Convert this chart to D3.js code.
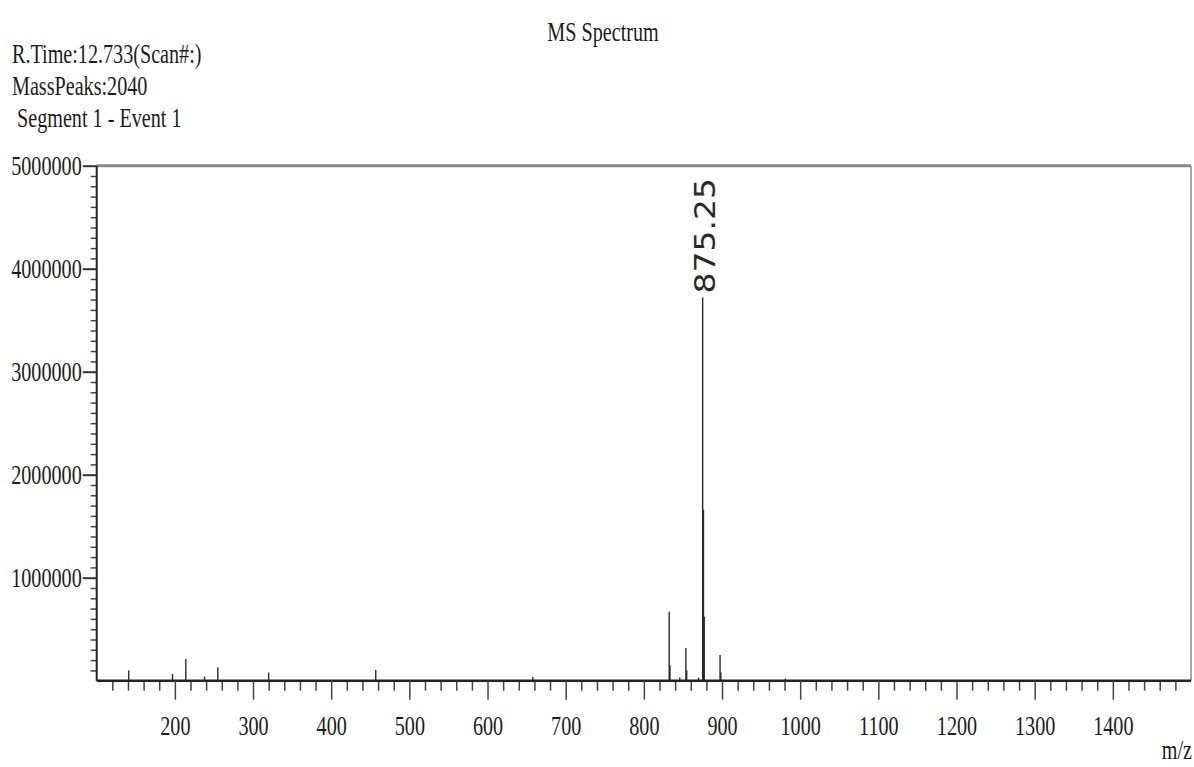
<!DOCTYPE html>
<html>
<head>
<meta charset="utf-8">
<script src="https://cdn.jsdelivr.net/npm/d3@7"></script>
<style>
	body { margin: 0; background: #fff; }
	text { font-family: "Liberation Serif", "Times New Roman", serif; fill: #1c1c1c; }
</style>
</head>
<body>
<svg id="chart" width="1194" height="767"></svg>
<script>
// peak list: m/z and intensity
var peakMz = [141, 197, 214, 238, 255, 320, 457, 658, 832.4, 833.4, 846, 853.8, 854.8, 870, 875.25, 876.25, 877.25, 897.5, 898.5, 981];
var peakInt = [100000, 65000, 210000, 40000, 130000, 80000, 105000, 35000, 670000, 150000, 30000, 317000, 100000, 30000, 3720000, 1660000, 620000, 250000, 80000, 20000];

var yTickValues = [1000000, 2000000, 3000000, 4000000, 5000000];
var xTickValues = [200, 300, 400, 500, 600, 700, 800, 900, 1000, 1100, 1200, 1300, 1400];
var headerLines = ["R.Time:12.733(Scan#:)", "MassPeaks:2040", " Segment 1 - Event 1"];
var title = "MS Spectrum";
var peakLabel = "875.25";

(function () {
	var SQ = 0.72; // glyphs in the picture are squeezed horizontally
	var FS = 28;

	var svg = d3.select("#chart");

	var plotL = 96.7, plotR = 1191, plotT = 165.7, plotB = 680.7;

	var x = d3.scaleLinear().domain([100, 1500]).range([plotL, plotR]);
	var y = d3.scaleLinear().domain([0, 5000000]).range([plotB, plotT]);

	function squeezed(sel, tx, ty) {
		return sel.attr("transform", "translate(" + tx + "," + ty + ") scale(" + SQ + ",1)");
	}

	// header
	squeezed(svg.append("text"), 603, 41)
		.attr("text-anchor", "middle")
		.attr("font-size", FS)
		.text(title);

	headerLines.forEach(function (line, i) {
		squeezed(svg.append("text"), 12, 63 + i * 32)
			.attr("font-size", FS)
			.style("white-space", "pre")
			.text(line);
	});

	// frame: top and right in grey
	svg.append("line")
		.attr("x1", plotL).attr("x2", plotR)
		.attr("y1", plotT).attr("y2", plotT)
		.attr("stroke", "#8a8a8a")
		.attr("stroke-width", 3);
	svg.append("line")
		.attr("x1", plotR).attr("x2", plotR)
		.attr("y1", plotT).attr("y2", plotB)
		.attr("stroke", "#8a8a8a")
		.attr("stroke-width", 1.5);

	// peaks
	svg.append("g")
		.selectAll("line")
		.data(peakMz)
		.enter()
		.append("line")
		.attr("x1", function (d) { return x(d); })
		.attr("x2", function (d) { return x(d); })
		.attr("y1", y(0))
		.attr("y2", function (d, i) { return y(peakInt[i]); })
		.attr("stroke", "#2a2a2a")
		.attr("stroke-width", 1.4);

	// y axis
	var yMinor = d3.range(100000, 5000000, 100000).filter(function (v) { return v % 1000000 !== 0; });

	svg.append("g").attr("transform", "translate(" + plotL + ",0)")
		.call(d3.axisLeft(y).tickValues(yMinor).tickSize(6).tickFormat(""))
		.call(function (g) { g.select(".domain").remove(); })
		.selectAll("line").attr("stroke", "#444").attr("stroke-width", 1.5);

	var yMajor = svg.append("g").attr("transform", "translate(" + plotL + ",0)")
		.call(d3.axisLeft(y).tickValues(yTickValues).tickSize(14).tickFormat(d3.format("d")));
	yMajor.select(".domain").attr("stroke", "#222").attr("stroke-width", 2).attr("d", "M0," + plotB + "V" + plotT);
	yMajor.selectAll(".tick line").attr("stroke", "#333").attr("stroke-width", 2);
	yMajor.selectAll(".tick text")
		.attr("font-size", FS)
		.attr("dy", "0.33em")
		.attr("x", 0)
		.attr("transform", "translate(-15,0) scale(" + SQ + ",1)");

	// x axis
	var xMinor = d3.range(120, 1500, 20).filter(function (v) { return v % 100 !== 0; });

	svg.append("g").attr("transform", "translate(0," + plotB + ")")
		.call(d3.axisBottom(x).tickValues(xMinor).tickSize(10).tickFormat(""))
		.call(function (g) { g.select(".domain").remove(); })
		.selectAll("line").attr("stroke", "#444").attr("stroke-width", 1.5);

	var xMajor = svg.append("g").attr("transform", "translate(0," + plotB + ")")
		.call(d3.axisBottom(x).tickValues(xTickValues).tickSize(19).tickFormat(d3.format("d")));
	xMajor.select(".domain").attr("stroke", "#222").attr("stroke-width", 2.6).attr("d", "M" + plotL + ",0H" + plotR);
	xMajor.selectAll(".tick line").attr("stroke", "#444").attr("stroke-width", 1.5);
	xMajor.selectAll(".tick text")
		.attr("font-size", FS)
		.attr("y", 0)
		.attr("dy", 0)
		.attr("transform", "translate(0,54) scale(" + SQ + ",1)");

	squeezed(svg.append("text"), 1192, 759)
		.attr("text-anchor", "end")
		.attr("font-size", FS)
		.text("m/z");

	// label of the base peak, rotated
	var topInt = d3.max(peakInt);
	var basePeak = peakMz[peakInt.indexOf(topInt)];
	svg.append("text")
		.attr("transform", "translate(" + (x(basePeak) + 12) + "," + (y(topInt) - 4) + ") scale(0.85,1) rotate(-90)")
		.style("font-family", "'DejaVu Sans', sans-serif")
		.attr("font-size", 33)
		.style("fill", "#2a2a2a")
		.text(peakLabel);
})();
</script>
</body>
</html>
